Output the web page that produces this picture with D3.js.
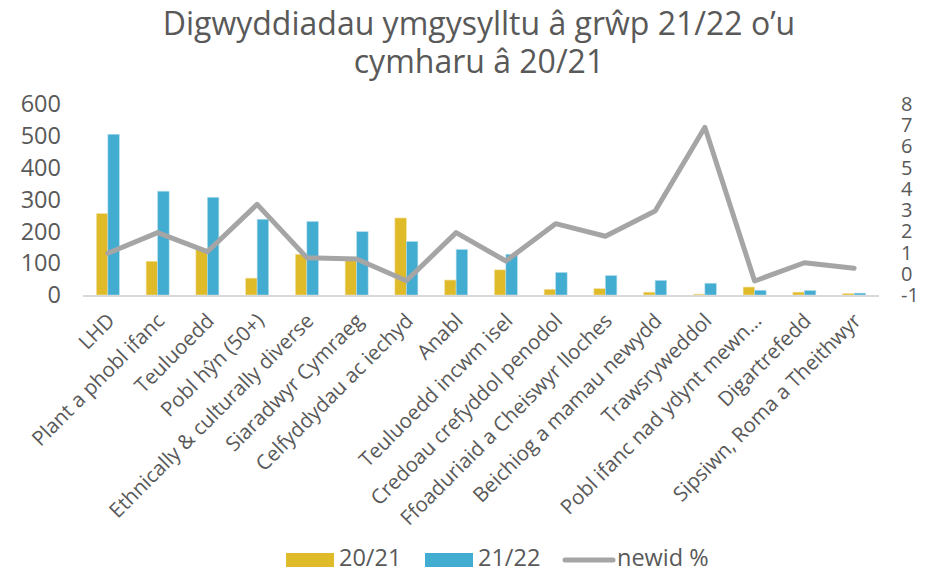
<!DOCTYPE html>
<html>
<head>
<meta charset="utf-8">
<script src="https://cdn.jsdelivr.net/npm/d3@7"></script>
<style>
  body { margin: 0; background: #fff; }
  text { font-family: "Open Sans", "Noto Sans", sans-serif; fill: #595959; }
</style>
</head>
<body>
<svg id="chart" width="937" height="572"></svg>
<script>
// categories and series
let categories = [
  "LHD", "Plant a phobl ifanc", "Teuluoedd", "Pobl hŷn (50+)",
  "Ethnically & culturally diverse", "Siaradwyr Cymraeg", "Celfyddydau ac iechyd",
  "Anabl", "Teuluoedd incwm isel", "Credoau crefyddol penodol",
  "Ffoaduriaid a Cheiswyr lloches", "Beichiog a mamau newydd", "Trawsryweddol",
  "Pobl ifanc nad ydynt mewn…", "Digartrefedd", "Sipsiwn, Roma a Theithwyr"
];
let values2021 = [256, 106, 145, 53, 128, 108, 242, 47, 79, 18, 20, 9, 3, 25, 9, 5];
let values2122 = [505, 326, 307, 238, 231, 199, 168, 143, 128, 71, 61, 46, 37, 15, 14, 6];
let newid = [0.97, 1.94, 1.04, 3.27, 0.76, 0.70, -0.33, 1.94, 0.60, 2.36, 1.77, 2.96, 6.90, -0.34, 0.52, 0.26];

let leftTicks = [0, 100, 200, 300, 400, 500, 600];
let rightTicks = [-1, 0, 1, 2, 3, 4, 5, 6, 7, 8];

let titleLines = ["Digwyddiadau ymgysylltu â grŵp 21/22 o’u", "cymharu â 20/21"];
let legendItems = [
  {label: "20/21", type: "bar", color: "#E0BB29"},
  {label: "21/22", type: "bar", color: "#42ACD1"},
  {label: "newid %", type: "line", color: "#A5A5A5"}
];

let svg = d3.select("#chart");
let plotLeft = 83, plotRight = 879, plotTop = 104, plotBottom = 295;

let xScale = d3.scaleBand().domain(categories).range([plotLeft, plotRight]);
let yLeft = d3.scaleLinear().domain([0, 600]).range([plotBottom, plotTop]);
let yRight = d3.scaleLinear().domain([-1, 8]).range([plotBottom, plotTop]);
let barW = 11.5;
let mid = d => xScale(d) + xScale.bandwidth() / 2;

// title
svg.append("text")
   .attr("y", 35)
   .attr("text-anchor", "middle")
   .style("font-size", "32px")
   .selectAll("tspan")
   .data(titleLines)
   .join("tspan")
   .attr("x", 479)
   .attr("dy", (d, i) => i ? 38 : 0)
   .text(d => d);

// left axis labels
svg.append("g")
   .selectAll("text")
   .data(leftTicks)
   .join("text")
   .attr("x", 61)
   .attr("y", d => yLeft(d))
   .attr("dy", "0.35em")
   .attr("text-anchor", "end")
   .style("font-size", "23.5px")
   .text(d => d);

// right axis labels
svg.append("g")
   .selectAll("text")
   .data(rightTicks)
   .join("text")
   .attr("x", 901)
   .attr("y", d => yRight(d))
   .attr("dy", "0.35em")
   .style("font-size", "20px")
   .text(d => d < 0 ? "-" + Math.abs(d) : d);

// bars
let bars = svg.append("g");
bars.selectAll("rect.y2021")
    .data(values2021)
    .join("rect")
    .attr("class", "y2021")
    .attr("x", (d, i) => mid(categories[i]) - barW)
    .attr("y", d => yLeft(d))
    .attr("width", barW)
    .attr("height", d => plotBottom - yLeft(d))
    .attr("fill", legendItems[0].color)
    .attr("stroke", "#F3E3A8")
    .attr("stroke-width", 0.6);

bars.selectAll("rect.y2122")
    .data(values2122)
    .join("rect")
    .attr("class", "y2122")
    .attr("x", (d, i) => mid(categories[i]))
    .attr("y", d => yLeft(d))
    .attr("width", barW)
    .attr("height", d => plotBottom - yLeft(d))
    .attr("fill", legendItems[1].color)
    .attr("stroke", "#B5DDEC")
    .attr("stroke-width", 0.6);

// baseline
svg.append("line")
   .attr("x1", plotLeft).attr("x2", plotRight)
   .attr("y1", plotBottom + 1).attr("y2", plotBottom + 1)
   .attr("stroke", "#D9D9D9")
   .attr("stroke-width", 2);

// line series
let line = d3.line()
  .x((d, i) => mid(categories[i]))
  .y(d => yRight(d));

svg.append("path")
   .datum(newid)
   .attr("d", line)
   .attr("fill", "none")
   .attr("stroke", legendItems[2].color)
   .attr("stroke-width", 5)
   .attr("stroke-linejoin", "round")
   .attr("stroke-linecap", "round");

// category labels
svg.append("g")
   .selectAll("text")
   .data(categories)
   .join("text")
   .attr("transform", d => `translate(${mid(d) + 3}, 317) rotate(-45)`)
   .attr("text-anchor", "end")
   .attr("dy", "0.35em")
   .style("font-size", "20.5px")
   .text(d => d);

// legend
let legendX = [286, 425, 563];
let legendTextX = [339, 478, 617];
let legend = svg.append("g");
legendItems.forEach((item, i) => {
  if (item.type === "bar") {
    legend.append("rect")
          .attr("x", legendX[i]).attr("y", 553)
          .attr("width", 48).attr("height", 14)
          .attr("fill", item.color);
  } else {
    legend.append("line")
          .attr("x1", legendX[i] + 2).attr("x2", legendX[i] + 50)
          .attr("y1", 560).attr("y2", 560)
          .attr("stroke", item.color)
          .attr("stroke-width", 5)
          .attr("stroke-linecap", "round");
  }
  legend.append("text")
        .attr("x", legendTextX[i])
        .attr("y", 566)
        .style("font-size", "23.5px")
        .text(item.label);
});
</script>
</body>
</html>
